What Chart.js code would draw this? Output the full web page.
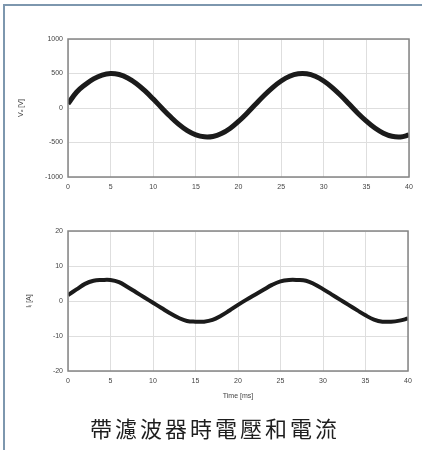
<!DOCTYPE html>
<html>
<head>
<meta charset="utf-8">
<script src="https://cdn.jsdelivr.net/npm/chart.js@4/dist/chart.umd.min.js"></script>
<style>
  html, body { margin: 0; padding: 0; background: #fff; }
  #page { position: relative; width: 422px; height: 450px; overflow: hidden; }
  #frame { position: absolute; left: 3px; top: 4px; width: 430px; height: 460px;
           border-top: 2px solid #7d97ae; border-left: 2px solid #7d97ae; }
  canvas { position: absolute; left: 0; }
  #c1 { top: 0; }
  #c2 { top: 200px; }
  #title { position: absolute; left: 0; width: 430px; top: 411px; text-align: center;
           font-family: "Noto Sans CJK TC", "Noto Sans CJK SC", sans-serif; font-size: 22px;
           letter-spacing: 3px; color: #1e1e1e; }
</style>
</head>
<body>
<div id="page">
  <div id="frame"></div>
  <canvas id="c1" width="422" height="200"></canvas>
  <canvas id="c2" width="422" height="215"></canvas>
  <div id="title">帶濾波器時電壓和電流</div>
</div>
<script>
var timeMs = [0,1,2,3,4,5,6,7,8,9,10,11,12,13,14,15,16,17,18,19,20,
              21,22,23,24,25,26,27,28,29,30,31,32,33,34,35,36,37,38,39,40]
var voltage = [60,228,337,422,478,500,485,436,356,251,130,1,-124,-237,-328,-390,-418,-412,-370,-296,-194,
               -75,53,180,296,391,460,495,495,460,391,296,180,53,-75,-190,-290,-365,-410,-419,-392]
var current = [1.7,3.3,4.9,5.8,6.0,6.0,5.4,4.0,2.5,1.0,-0.5,-2.0,-3.5,-4.8,-5.7,-5.9,-5.9,-5.4,-4.2,-2.7,-1.1,
               0.4,1.8,3.2,4.6,5.6,6.0,6.0,5.8,4.8,3.4,1.9,0.4,-1.1,-2.6,-4.1,-5.3,-5.9,-5.9,-5.6,-5.0]
var xTicks = [0,5,10,15,20,25,30,35,40]
var vTicks = [-1000,-500,0,500,1000]
var iTicks = [-20,-10,0,10,20]

var tickFont = { family: 'Liberation Sans', size: 7 }

// box round the plot area, like the matlab axes
var framePlugin = {
  id: 'frame',
  afterDraw: function (chart) {
    var a = chart.chartArea
    var ctx = chart.ctx
    ctx.save()
    ctx.strokeStyle = '#858585'
    ctx.lineWidth = 1.5
    ctx.strokeRect(a.left, a.top, a.right - a.left, a.bottom - a.top)
    ctx.restore()
  }
}

function makeChart(id, values, yTicks, yLabel, pad, xHeight, xTitle, lineWidth) {
  var points = timeMs.map(function (t, i) { return { x: t, y: values[i] } })
  return new Chart(document.getElementById(id), {
    type: 'line',
    data: {
      datasets: [{
        data: points,
        borderColor: '#1b1b1b',
        borderWidth: lineWidth,
        pointRadius: 0,
        tension: 0.4,
        fill: false
      }]
    },
    options: {
      responsive: false,
      animation: false,
      layout: { padding: pad },
      plugins: { legend: { display: false }, tooltip: { enabled: false } },
      scales: {
        x: {
          type: 'linear',
          min: 0, max: 40,
          afterBuildTicks: function (scale) { scale.ticks = xTicks.map(function (v) { return { value: v } }) },
          afterFit: function (scale) { scale.height = xHeight },
          grid: { color: '#dedede', drawTicks: false },
          border: { display: false },
          ticks: { font: tickFont, color: '#444', padding: 6, maxRotation: 0 },
          title: { display: !!xTitle, text: xTitle, font: tickFont, color: '#444', padding: 0 }
        },
        y: {
          min: yTicks[0], max: yTicks[yTicks.length - 1],
          afterBuildTicks: function (scale) { scale.ticks = yTicks.map(function (v) { return { value: v } }) },
          afterFit: function (scale) { scale.width = 68 - pad.left },
          grid: { color: '#dedede', drawTicks: false },
          border: { display: false },
          ticks: { font: tickFont, color: '#444', padding: 5,
                   callback: function (v) { return String(v) } },
          title: { display: true, text: yLabel, font: tickFont, color: '#444', padding: 0 }
        }
      }
    },
    plugins: [framePlugin]
  })
}

makeChart('c1', voltage, vTicks, 'Vₒ [V]', { top: 39, right: 13, left: 17, bottom: 0 }, 23, '', 5)
makeChart('c2', current, iTicks, 'Iₗ [A]', { top: 31, right: 14, left: 25, bottom: 15 }, 29, 'Time [ms]', 4)
</script>
</body>
</html>
